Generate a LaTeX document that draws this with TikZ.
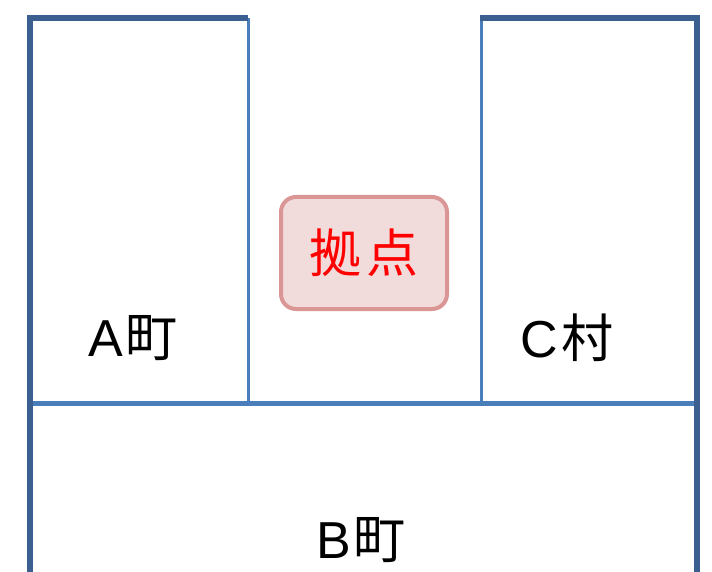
\documentclass[tikz,border=0pt]{standalone}
\usepackage{fontspec}
\setmainfont{Noto Sans CJK JP}
\newfontfamily\latinfont{Liberation Sans}
\begin{document}
\begin{tikzpicture}[x=1pt,y=-1pt,
  outerline/.style={draw=outerblue,line width=6pt,line join=miter},
  innerline/.style={draw=innerblue,line width=3pt},
  midline/.style={draw=innerblue,line width=5pt},
  label/.style={font=\fontsize{52}{56}\selectfont,text=black,inner sep=0pt},
  hub/.style={draw=hubborder,fill=hubfill,line width=4pt,rounded corners=15pt,
    minimum width=166pt,minimum height=112pt,inner sep=0pt,
    font=\fontsize{52}{56}\selectfont,text=red}]
\definecolor{outerblue}{HTML}{3B6090}
\definecolor{innerblue}{HTML}{4A7EBB}
\definecolor{hubborder}{HTML}{D99694}
\definecolor{hubfill}{HTML}{F2DCDB}
\useasboundingbox (0,0) rectangle (712,572);
\fill[white] (0,0) rectangle (712,572);
% inner lines
\draw[innerline] (248,18) -- (248,403);
\draw[innerline] (481,18) -- (481,403);
\draw[midline] (30,403.5) -- (697,403.5);
% outer lines
\draw[outerline] (30,575) -- (30,18) -- (248,18);
\draw[outerline] (480,18) -- (697,18) -- (697,575);
% hub
\node[hub] (hub) at (364,253) {拠\hspace{6pt}点};
% labels
\node[label] (a) at (133,338) {{\latinfont A}\hspace{3pt}町};
\node[label] (c) at (567,338) {{\latinfont C}\hspace{3pt}村};
\node[label] (b) at (361,540) {{\latinfont B}\hspace{3pt}町};
\end{tikzpicture}
\end{document}
